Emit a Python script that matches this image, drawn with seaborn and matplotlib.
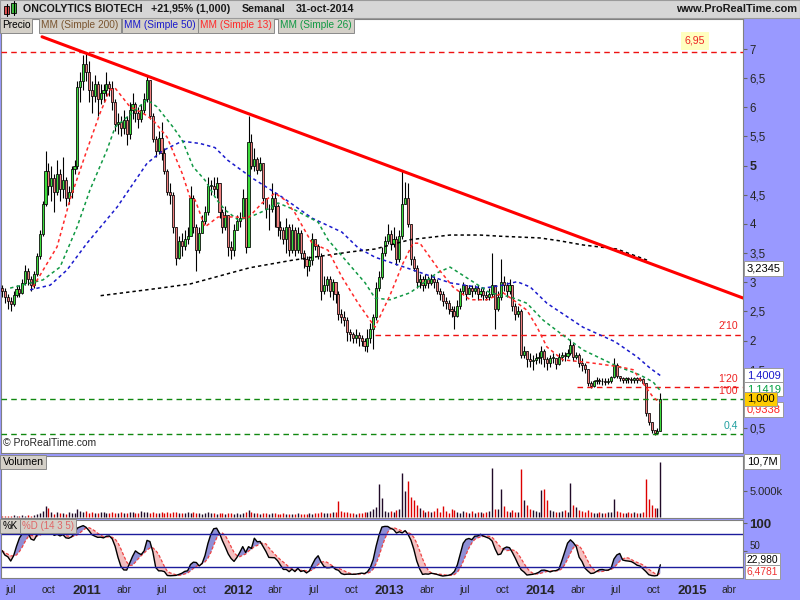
"""
Gráfico semanal ONCOLYTICS BIOTECH al estilo ProRealTime:
velas + medias móviles, volumen y estocástico.
"""

import numpy as np
import pandas as pd
import matplotlib
import matplotlib.pyplot as plt
import matplotlib.transforms as mtransforms
from matplotlib.patches import Rectangle
import seaborn as sns

matplotlib.use("Agg")

COLORES = {
    "fondo": "#9999ff",
    "cabecera": "#d6d6d6",
    "tab": "#d4d0c8",
    "sube": "#3ddc3d",
    "baja": "#f08080",
    "vol_sube": "#200a28",
    "vol_baja": "#dd0000",
    "mm200": "#000000",
    "mm50": "#1a1acc",
    "mm13": "#ff2a2a",
    "mm26": "#119944",
    "tendencia": "#ff0000",
    "nivel_rojo": "#ee1111",
    "nivel_verde": "#118811",
    "borde": "#808080",
}

INICIO = pd.Timestamp("2010-06-25")  # viernes de la primera vela semanal

# ---------------------------------------------------------------- datos velas
apertura_inicial = 2.90

cierres = [
    2.85, 2.75, 2.68, 2.62, 2.78, 2.88, 2.82, 2.98, 3.20, 3.05,
    2.95, 3.15, 3.45, 3.82, 4.35, 4.90, 4.65, 4.78, 4.55, 4.85,
    4.60, 4.75, 4.45, 4.55, 4.95, 5.00, 6.35, 6.45, 6.75, 6.60,
    6.30, 6.20, 6.40, 6.15, 6.25, 6.30, 6.40, 6.33, 6.10, 5.72,
    5.75, 5.65, 5.78, 5.55, 5.95, 6.05, 5.90, 5.80, 5.95, 6.15,
    6.47, 5.85, 5.45, 5.25, 5.48, 5.22, 4.90, 4.55, 4.50, 3.95,
    3.42, 3.70, 3.62, 3.75, 3.80, 4.45, 3.95, 3.55, 3.85, 4.05,
    4.20, 4.65, 4.65, 4.60, 4.70, 4.20, 3.95, 4.15, 3.60, 3.55,
    3.90, 4.05, 4.10, 4.45, 3.60, 5.40, 5.00, 5.12, 4.92, 5.05,
    4.45, 4.25, 4.25, 4.45, 4.30, 3.95, 3.90, 3.75, 3.95, 3.55,
    3.90, 3.55, 3.85, 3.50, 3.40, 3.28, 3.38, 3.75, 3.62, 3.45,
    2.85, 2.95, 3.05, 2.85, 3.00, 2.80, 2.45, 2.40, 2.35, 2.15,
    2.12, 2.05, 2.10, 2.05, 2.00, 1.90, 2.05, 2.20, 2.40, 2.90,
    3.09, 3.50, 3.70, 3.82, 3.65, 3.75, 3.40, 3.80, 4.35, 4.45,
    4.00, 3.40, 3.25, 3.00, 3.05, 2.95, 3.05, 2.98, 3.05, 3.00,
    2.85, 2.80, 2.68, 2.65, 2.55, 2.50, 2.42, 2.60, 2.85, 2.95,
    2.80, 2.90, 2.85, 2.90, 2.80, 2.85, 2.78, 2.75, 2.80, 2.95,
    2.55, 2.75, 3.00, 2.95, 2.85, 2.95, 2.60, 2.45, 2.50, 1.75,
    1.82, 1.68, 1.65, 1.66, 1.70, 1.72, 1.82, 1.68, 1.62, 1.70,
    1.70, 1.60, 1.72, 1.75, 1.73, 1.78, 1.92, 1.72, 1.75, 1.62,
    1.58, 1.52, 1.28, 1.22, 1.30, 1.32, 1.30, 1.31, 1.29, 1.30,
    1.37, 1.58, 1.40, 1.35, 1.33, 1.35, 1.34, 1.33, 1.35, 1.33,
    1.34, 1.28, 0.75, 0.60, 0.47, 0.42, 0.45, 1.00,
]

maximos = [
    2.95, 2.90, 2.80, 2.75, 2.85, 2.95, 2.95, 3.05, 3.30, 3.25,
    3.10, 3.20, 3.50, 3.90, 4.40, 5.25, 5.05, 5.00, 4.85, 5.10,
    4.95, 5.15, 4.80, 4.65, 5.00, 5.10, 6.45, 6.60, 6.90, 6.95,
    6.80, 6.45, 6.55, 6.45, 6.40, 6.40, 6.60, 6.45, 6.45, 6.15,
    5.90, 5.85, 5.95, 5.85, 6.10, 6.25, 6.10, 6.00, 6.05, 6.25,
    6.55, 6.45, 5.90, 5.50, 5.60, 5.75, 5.30, 4.95, 4.70, 4.55,
    3.95, 3.80, 3.85, 3.90, 3.95, 4.65, 4.50, 4.00, 3.95, 4.15,
    4.30, 4.80, 4.75, 4.80, 4.80, 4.70, 4.25, 4.30, 4.15, 3.70,
    4.00, 4.15, 4.20, 4.60, 4.45, 5.85, 5.55, 5.30, 5.15, 5.15,
    5.05, 4.45, 4.35, 4.70, 4.55, 4.35, 4.05, 3.95, 4.10, 4.00,
    4.00, 3.95, 3.95, 3.90, 3.55, 3.45, 3.45, 3.85, 3.75, 3.65,
    3.50, 3.10, 3.10, 3.10, 3.05, 3.00, 2.85, 2.55, 2.50, 2.40,
    2.20, 2.15, 2.20, 2.15, 2.10, 2.05, 2.20, 2.30, 2.45, 3.00,
    3.20, 3.60, 3.80, 4.00, 3.90, 3.95, 3.80, 3.90, 4.90, 4.72,
    4.70, 4.00, 3.45, 3.30, 3.15, 3.10, 3.15, 3.10, 3.15, 3.10,
    3.05, 2.90, 2.85, 2.75, 2.70, 2.60, 2.60, 2.70, 2.90, 3.00,
    2.95, 2.95, 2.95, 2.95, 2.95, 2.90, 2.90, 2.85, 2.90, 3.50,
    2.95, 2.85, 3.40, 3.10, 3.00, 3.05, 2.95, 2.65, 2.60, 2.55,
    1.90, 1.80, 1.78, 1.75, 1.78, 1.80, 1.90, 1.85, 1.72, 1.75,
    1.78, 1.68, 1.78, 1.80, 1.80, 1.85, 2.02, 1.95, 1.80, 1.78,
    1.70, 1.62, 1.52, 1.30, 1.33, 1.38, 1.36, 1.36, 1.36, 1.35,
    1.40, 1.70, 1.62, 1.40, 1.38, 1.38, 1.38, 1.37, 1.38, 1.38,
    1.38, 1.35, 1.28, 0.75, 0.60, 0.47, 0.50, 1.10,
]

minimos = [
    2.75, 2.65, 2.55, 2.50, 2.60, 2.75, 2.75, 2.80, 2.95, 2.95,
    2.85, 2.90, 3.10, 3.40, 3.80, 4.30, 4.50, 4.40, 4.20, 4.50,
    4.40, 4.45, 4.30, 4.35, 4.45, 4.85, 4.95, 6.10, 6.30, 6.45,
    6.10, 5.90, 6.10, 5.85, 6.05, 6.10, 6.20, 6.20, 5.95, 5.60,
    5.55, 5.50, 5.55, 5.35, 5.45, 5.80, 5.75, 5.65, 5.75, 5.90,
    6.10, 5.80, 5.40, 5.15, 5.20, 5.10, 4.85, 4.50, 4.35, 3.85,
    3.30, 3.40, 3.45, 3.55, 3.65, 3.80, 3.85, 3.20, 3.50, 3.85,
    4.00, 4.15, 4.50, 4.50, 4.45, 4.10, 3.85, 3.90, 3.45, 3.40,
    3.45, 3.90, 3.95, 4.10, 3.50, 3.60, 4.95, 4.90, 4.85, 4.90,
    4.35, 4.10, 3.90, 4.20, 3.95, 3.80, 3.75, 3.65, 3.50, 3.45,
    3.50, 3.45, 3.50, 3.40, 3.25, 3.10, 3.20, 3.30, 3.55, 3.40,
    2.70, 2.80, 2.85, 2.75, 2.70, 2.65, 2.35, 2.30, 2.25, 2.00,
    2.00, 1.95, 1.95, 1.90, 1.90, 1.82, 1.80, 1.95, 1.85, 2.35,
    2.85, 3.05, 3.45, 3.65, 3.55, 3.60, 3.30, 3.35, 3.75, 4.35,
    3.95, 3.30, 3.20, 2.90, 2.90, 2.85, 2.90, 2.90, 2.95, 2.90,
    2.80, 2.70, 2.60, 2.55, 2.45, 2.40, 2.20, 2.40, 2.55, 2.80,
    2.70, 2.80, 2.75, 2.80, 2.70, 2.75, 2.70, 2.70, 2.70, 2.75,
    2.20, 2.50, 2.70, 2.85, 2.75, 2.80, 2.50, 2.35, 2.40, 1.70,
    1.70, 1.55, 1.55, 1.50, 1.60, 1.62, 1.60, 1.55, 1.50, 1.55,
    1.62, 1.52, 1.58, 1.65, 1.65, 1.70, 1.75, 1.65, 1.68, 1.55,
    1.48, 1.45, 1.22, 1.18, 1.20, 1.25, 1.25, 1.24, 1.24, 1.25,
    1.27, 1.35, 1.35, 1.30, 1.28, 1.28, 1.27, 1.28, 1.28, 1.27,
    1.30, 1.25, 0.70, 0.55, 0.42, 0.38, 0.40, 0.45,
]

# volumen semanal en millones
volumen = [
    0.15, 0.20, 0.25, 0.15, 0.30, 0.20, 0.25, 0.30, 0.20, 0.35,
    0.25, 0.30, 0.50, 0.80, 1.20, 2.10, 1.70, 0.90, 0.60, 1.00,
    0.70, 0.80, 0.60, 0.90, 0.70, 0.80, 1.50, 1.10, 0.90, 1.20,
    0.80, 0.90, 0.70, 0.80, 0.90, 1.00, 0.70, 0.80, 0.90, 0.70,
    0.80, 0.90, 0.70, 0.80, 1.00, 0.90, 0.80, 0.70, 1.10, 0.90,
    1.00, 0.80, 0.90, 0.70, 0.80, 0.90, 0.80, 0.90, 0.80, 0.90,
    1.00, 0.80, 0.70, 0.80, 0.90, 0.80, 0.90, 0.70, 0.80, 0.60,
    0.70, 0.90, 0.80, 0.70, 0.60, 0.80, 0.70, 0.60, 0.80, 0.70,
    0.60, 0.70, 0.60, 0.80, 0.90, 1.30, 0.90, 0.70, 0.80, 0.60,
    0.80, 0.70, 0.60, 0.80, 0.70, 0.60, 0.50, 0.70, 0.60, 0.50,
    0.60, 0.50, 0.70, 0.60, 0.50, 0.60, 0.70, 0.60, 0.80, 0.70,
    0.90, 0.70, 0.80, 0.70, 0.90, 1.00, 3.00, 1.20, 0.90, 1.00,
    0.80, 0.70, 0.60, 0.80, 0.70, 0.90, 1.00, 1.10, 1.50, 2.00,
    6.30, 3.60, 1.20, 1.00, 1.10, 0.90, 1.30, 1.50, 8.50, 5.10,
    6.90, 3.80, 3.20, 2.40, 1.80, 1.30, 1.00, 1.20, 0.90, 1.10,
    1.80, 1.00, 2.10, 1.20, 0.80, 1.50, 1.30, 1.00, 0.80, 1.10,
    0.90, 0.80, 1.20, 0.70, 0.90, 1.00, 0.80, 0.90, 1.10, 9.40,
    1.60, 1.60, 5.50, 2.20, 1.20, 1.00, 1.30, 0.90, 1.00, 9.30,
    3.20, 2.40, 1.50, 1.30, 1.20, 1.00, 5.30, 5.40, 3.20, 1.40,
    1.20, 1.00, 0.90, 1.10, 1.30, 1.00, 6.60, 2.40, 2.00, 1.30,
    1.10, 1.00, 1.40, 0.90, 0.80, 0.70, 0.90, 0.80, 0.70, 0.90,
    1.00, 3.40, 1.20, 0.90, 0.80, 0.70, 1.00, 0.80, 0.90, 0.70,
    0.80, 0.90, 7.30, 3.40, 2.40, 1.80, 1.80, 10.70,
]

# ------------------------------------------- medias móviles (semana, valor)
mm200_sem = [34, 54.5, 64.8, 85.5, 100.3, 120, 128.6, 140.7, 154.5, 164.8,
             171.7, 185.5, 192.4, 200.3, 212, 222.4]
mm200_val = [2.77, 2.90, 2.97, 3.25, 3.38, 3.52, 3.57, 3.73, 3.81, 3.81,
             3.79, 3.76, 3.71, 3.64, 3.57, 3.38]

mm50_sem = [9.7, 16.6, 22.4, 29.3, 39.7, 50.0, 55.5, 62.1, 68.3, 73.4,
            77.9, 86.2, 96.6, 106.9, 117.2, 122.8, 128.6, 141.7, 154.5, 165.9,
            171.7, 177.6, 182.1, 187.9, 200.3, 211.4, 219.0, 223.4, 227]
mm50_val = [2.87, 2.95, 3.21, 3.67, 4.29, 5.04, 5.26, 5.42, 5.38, 5.31,
            5.09, 4.79, 4.46, 4.10, 3.86, 3.59, 3.43, 3.21, 2.99, 2.90,
            2.94, 3.01, 2.92, 2.64, 2.23, 1.98, 1.72, 1.53, 1.40]

mm26_sem = [2.8, 14.1, 20.0, 25.9, 30.3, 36.2, 39.0, 45.2, 50.0, 53.4,
            59.0, 62.1, 65.9, 70.0, 74.1, 76.9, 81.4, 85.5, 89.7, 95.2,
            101.0, 109.0, 112.4, 119.3, 125.2, 128.6, 133.8, 140.7, 150.0, 154.5,
            161.4, 168.3, 175.2, 181.0, 186.6, 192.4, 200.3, 212.1, 220.0, 224.5,
            227]
mm26_val = [2.90, 3.04, 3.26, 3.95, 4.58, 5.27, 5.66, 5.92, 6.13, 6.01,
            5.66, 5.44, 4.98, 4.75, 4.41, 4.24, 4.07, 4.12, 4.21, 4.36,
            4.24, 4.03, 3.73, 3.33, 2.99, 2.73, 2.70, 2.82, 3.16, 3.26,
            3.04, 2.82, 2.75, 2.64, 2.35, 2.13, 1.84, 1.56, 1.41, 1.29,
            1.14]

mm13_sem = [10.7, 19.0, 23.4, 29.3, 33.8, 37.2, 39.0, 44.1, 48.6, 52.1,
            56.9, 62.1, 64.8, 66.6, 70.0, 74.5, 80.3, 84.8, 89.7, 94.1,
            97.6, 101.0, 106.9, 112.4, 117.2, 122.8, 128.6, 133.8, 138.3, 141.7,
            144.1, 150.0, 155.5, 161.4, 167.2, 172.8, 176.2, 181.0, 184.5, 187.9,
            193.4, 202.8, 213.1, 217.6, 221.0, 224.5, 227]
mm13_val = [2.92, 3.61, 4.41, 5.27, 5.90, 6.30, 6.33, 6.01, 5.90, 5.78,
            5.49, 4.87, 4.46, 4.41, 3.95, 4.12, 4.12, 4.10, 4.36, 4.53,
            4.41, 4.19, 3.67, 3.55, 3.09, 2.64, 2.23, 2.78, 3.33, 3.67,
            3.67, 3.26, 2.92, 2.70, 2.70, 2.82, 2.70, 2.52, 2.23, 1.89,
            1.67, 1.62, 1.55, 1.50, 1.27, 1.03, 0.93]

# línea de tendencia bajista (semana, precio)
tendencia_sem = [13.8, 255.5]
tendencia_val = [7.21, 2.73]

# niveles horizontales
niveles_valor = [6.95, 2.10, 1.20, 1.00, 0.40]
niveles_desde = [None, 128.6, 198.3, None, None]
niveles_color = ["nivel_rojo", "nivel_rojo", "nivel_rojo", "nivel_verde", "nivel_verde"]
niveles_texto = [None, "2'10", "1'20", "1'00", "0,4"]
niveles_texto_color = [None, "#ee2222", "#ee2222", "#ee2222", "#22a0a0"]

# etiquetas del eje temporal
etiquetas_fecha = ["2010-07-15", "2010-10-15", "2011-01-15", "2011-04-15", "2011-07-15",
                   "2011-10-15", "2012-01-15", "2012-04-15", "2012-07-15", "2012-10-15",
                   "2013-01-15", "2013-04-15", "2013-07-15", "2013-10-15", "2014-01-15",
                   "2014-04-15", "2014-07-15", "2014-10-15", "2015-01-15", "2015-04-15"]
etiquetas_texto = ["jul", "oct", "2011", "abr", "jul", "oct", "2012", "abr", "jul", "oct",
                   "2013", "abr", "jul", "oct", "2014", "abr", "jul", "oct", "2015", "abr"]

assert len(cierres) == len(maximos) == len(minimos) == len(volumen) == 228

X_MIN, X_MAX = -0.35, 255.5


def semana(fecha: str) -> float:
    return (pd.Timestamp(fecha) - INICIO).days / 7.0


def marco(ax) -> None:
    ax.set_facecolor("white")
    for s in ax.spines.values():
        s.set_color(COLORES["borde"])
        s.set_linewidth(0.8)
    ax.set_xlim(X_MIN, X_MAX)
    ax.set_xlabel("")
    ax.set_ylabel("")


def pestana(ax, x, texto, color="black", y=0.997, size=7.3):
    ax.text(x, y, texto, transform=ax.transAxes, fontsize=size, color=color,
            va="top", ha="left", zorder=10,
            bbox=dict(boxstyle="square,pad=0.22", fc=COLORES["tab"], ec="#8a8a8a", lw=0.7))


def caja_derecha(ax, y, texto, color="black", fondo="white", dy=0, size=8):
    trans = mtransforms.blended_transform_factory(ax.transAxes, ax.transData)
    ax.annotate(texto, xy=(1.005, y), xycoords=trans, xytext=(0, dy),
                textcoords="offset points", fontsize=size, color=color,
                va="center", ha="left", annotation_clip=False, zorder=12,
                bbox=dict(boxstyle="square,pad=0.2", fc=fondo, ec="#9a9a9a", lw=0.7))


def media(ax, sem, val, color):
    sns.lineplot(x=sem, y=val, ax=ax, color=color, linewidth=1.1,
                 sort=False, estimator=None, zorder=4)
    ax.lines[-1].set_dashes([2.2, 2.0])


def grafica_precio(ax, o, h, l, c):
    x = np.arange(len(c))
    sube = c >= o
    ax.vlines(x, l, h, color="black", lw=0.8, zorder=2)
    cuerpo = np.maximum(np.abs(c - o), 0.012)
    ax.bar(x, cuerpo, bottom=np.minimum(o, c), width=0.72,
           color=np.where(sube, COLORES["sube"], COLORES["baja"]),
           edgecolor="black", linewidth=0.55, zorder=3)

    media(ax, mm200_sem, mm200_val, COLORES["mm200"])
    media(ax, mm50_sem, mm50_val, COLORES["mm50"])
    media(ax, mm26_sem, mm26_val, COLORES["mm26"])
    media(ax, mm13_sem, mm13_val, COLORES["mm13"])

    ax.plot(tendencia_sem, tendencia_val, color=COLORES["tendencia"], lw=2.2, zorder=5)

    for v, desde, col in zip(niveles_valor, niveles_desde, niveles_color):
        ax.hlines(v, X_MIN if desde is None else desde, X_MAX, color=COLORES[col],
                  lw=1.0, linestyles=(0, (4, 3)), zorder=3)
    for v, txt, col in zip(niveles_valor, niveles_texto, niveles_texto_color):
        if txt:
            ax.annotate(txt, xy=(0.993, v), xycoords=("axes fraction", "data"),
                        xytext=(0, 6), textcoords="offset points",
                        ha="right", va="center", fontsize=7.6, color=col, zorder=6)
    ax.annotate("6,95", xy=(0.935, 6.95), xycoords=("axes fraction", "data"),
                xytext=(0, 8), textcoords="offset points", ha="center", va="center",
                fontsize=7.6, color="#ee2222", zorder=6,
                bbox=dict(boxstyle="square,pad=0.35", fc="#ffffc0", ec="none"))

    marco(ax)
    ax.set_ylim(0.072, 7.515)
    ax.set_xticks([])
    ax.yaxis.tick_right()
    ticks = np.arange(0.5, 7.01, 0.5)
    ax.set_yticks(ticks)
    ax.set_yticklabels([f"{t:g}".replace(".", ",") for t in ticks])
    ax.tick_params(axis="y", direction="out", length=3, color="#666666",
                   labelsize=8.3, pad=1.5)
    for t, lab in zip(ticks, ax.get_yticklabels()):
        if t == 5:
            lab.set_fontweight("bold")
            lab.set_fontsize(9)

    caja_derecha(ax, 3.2345, "3,2345")
    caja_derecha(ax, 1.4009, "1,4009", color="#1a1acc")
    caja_derecha(ax, 1.1419, "1,1419", color="#00a040", dy=1)
    caja_derecha(ax, 0.9338, "0,9338", color="#ff2222", dy=-5)
    caja_derecha(ax, 1.0, "1,000", fondo="#ffcc00")

    ax.text(0.003, 0.012, "© ProRealTime.com", transform=ax.transAxes,
            fontsize=7.5, va="bottom", ha="left")


def grafica_volumen(ax, o, c, vol):
    x = np.arange(len(c))
    colores = np.where(c >= o, COLORES["vol_sube"], COLORES["vol_baja"])
    ax.vlines(x, 0, vol, colors=colores, lw=1.0)
    marco(ax)
    ax.set_ylim(-0.2, 11.8)
    ax.set_xticks([])
    ax.yaxis.tick_right()
    ax.set_yticks([5.0])
    ax.set_yticklabels(["5.000k"])
    ax.tick_params(axis="y", direction="out", length=3, color="#666666",
                   labelsize=8, pad=1.5)
    caja_derecha(ax, 10.7, "10,7M")
    pestana(ax, 0.002, "Volumen", y=0.985, size=7.6)


def grafica_estocastico(ax, h, l, c):
    sc, sh, sl = pd.Series(c), pd.Series(h), pd.Series(l)
    bajo = sl.rolling(14, min_periods=1).min()
    alto = sh.rolling(14, min_periods=1).max()
    bruto = 100 * (sc - bajo) / (alto - bajo)
    k = bruto.rolling(3, min_periods=1).mean()
    d = k.rolling(5, min_periods=1).mean()
    x = np.arange(len(c))

    ax.fill_between(x, k, d, where=k >= d, interpolate=True, color="#8f8fd6", lw=0)
    ax.fill_between(x, k, d, where=k < d, interpolate=True, color="#f4c0c0", lw=0)
    sns.lineplot(x=x, y=d.values, ax=ax, color="#ee4444", linewidth=0.9,
                 sort=False, estimator=None)
    ax.lines[-1].set_dashes([2.5, 1.5])
    sns.lineplot(x=x, y=k.values, ax=ax, color="black", linewidth=1.0,
                 sort=False, estimator=None)
    ax.axhline(80, color="#1c1c9c", lw=1.0)
    ax.axhline(20, color="#1c1c9c", lw=1.0)

    marco(ax)
    ax.set_ylim(0, 105.5)
    ax.yaxis.tick_right()
    ax.set_yticks([50, 100])
    ax.set_yticklabels(["50", "100"])
    ax.tick_params(axis="y", direction="out", length=3, color="#666666",
                   labelsize=7, pad=1.5)
    etiq = ax.get_yticklabels()
    etiq[0].set_verticalalignment("bottom")
    etiq[1].set_fontweight("bold")
    etiq[1].set_fontsize(9.5)

    caja_derecha(ax, 22.98, "22,980", dy=4, size=7.4)
    caja_derecha(ax, 6.4781, "6,4781", color="#ee3333", dy=2, size=7.4)

    pestana(ax, 0.002, "%K", y=0.985, size=7.0)
    pestana(ax, 0.028, "%D (14 3 5)", color="#e06666", y=0.985, size=7.0)

    pos = [semana(f) for f in etiquetas_fecha]
    ax.set_xticks(pos)
    ax.set_xticklabels(etiquetas_texto)
    ax.tick_params(axis="x", length=0, pad=5, labelsize=7.5)
    for lab in ax.get_xticklabels():
        if lab.get_text().isdigit():
            lab.set_fontweight("bold")
            lab.set_fontsize(9.5)


def cabecera(fig):
    fig.add_artist(Rectangle((0, 1 - 18 / 600), 1, 18 / 600, transform=fig.transFigure,
                             fc=COLORES["cabecera"], ec="#9a9a9a", lw=0.8))
    # icono de velas
    for (x0, y0, w, hgt), col in [((4, 6, 5, 8), "#e05050"), ((11, 3, 5, 10), "#40c040")]:
        fig.add_artist(plt.Line2D([(x0 + w / 2) / 800] * 2,
                                  [1 - (y0 - 2) / 600, 1 - (y0 + hgt + 2) / 600],
                                  transform=fig.transFigure, color="black", lw=0.8))
        fig.add_artist(Rectangle((x0 / 800, 1 - (y0 + hgt) / 600), w / 800, hgt / 600,
                                 transform=fig.transFigure, fc=col, ec="black", lw=0.6))
    y = 1 - 9.5 / 600
    for x, txt in [(23, "ONCOLYTICS BIOTECH"), (151, "+21,95% (1,000)"),
                   (242, "Semanal"), (296, "31-oct-2014")]:
        fig.text(x / 800, y, txt, fontsize=7.7, fontweight="bold", color="#1a1a1a",
                 va="center", ha="left")
    fig.text(797 / 800, y, "www.ProRealTime.com", fontsize=7.9, fontweight="bold",
             color="#1a1a1a", va="center", ha="right")


def main():
    sns.set_style("white")
    plt.rcParams["font.family"] = ["Liberation Sans", "DejaVu Sans"]

    c = np.array(cierres)
    o = np.r_[apertura_inicial, c[:-1]]
    h = np.maximum(np.array(maximos), np.maximum(o, c))
    l = np.minimum(np.array(minimos), np.minimum(o, c))
    vol = np.array(volumen)

    fig = plt.figure(figsize=(8, 6), dpi=100, facecolor=COLORES["fondo"])
    ax_p = fig.add_axes([1 / 800, 147 / 600, 742 / 800, 434 / 600])
    ax_v = fig.add_axes([1 / 800, 82 / 600, 742 / 800, 62 / 600])
    ax_s = fig.add_axes([1 / 800, 22 / 600, 742 / 800, 58 / 600])

    grafica_precio(ax_p, o, h, l, c)
    grafica_volumen(ax_v, o, c, vol)
    grafica_estocastico(ax_s, h, l, c)

    # pestañas de leyenda del panel de precio
    for x, txt, col in [(0.001, "Precio", "black"),
                        (0.054, "MM (Simple 200)", "#7a5530"),
                        (0.166, "MM (Simple 50)", COLORES["mm50"]),
                        (0.268, "MM (Simple 13)", COLORES["mm13"]),
                        (0.376, "MM (Simple 26)", COLORES["mm26"])]:
        pestana(ax_p, x, txt, col)

    cabecera(fig)
    fig.savefig("out.png", dpi=100, facecolor=fig.get_facecolor())
    plt.close(fig)


if __name__ == "__main__":
    main()
